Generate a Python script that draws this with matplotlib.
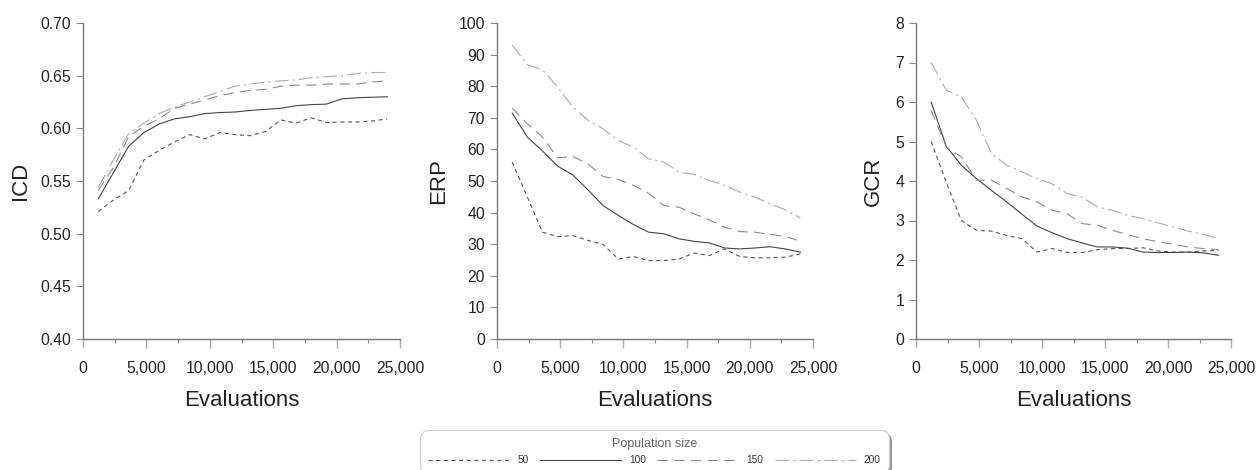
"""Three-panel convergence chart: ICD / ERP / GCR vs. evaluations per population size."""

import matplotlib

matplotlib.use("Agg")
import matplotlib.pyplot as plt
from matplotlib.ticker import FuncFormatter, MultipleLocator

plt.rcParams["font.family"] = ["Liberation Sans", "DejaVu Sans"]
plt.rcParams["lines.scale_dashes"] = False

# evaluations sampled every 1,200
evaluations = [1200 * k for k in range(1, 21)]
pop_sizes = ["50", "100", "150", "200"]

icd = {
    "50": [0.521, 0.532, 0.541, 0.570, 0.579, 0.587, 0.594, 0.590, 0.596, 0.594,
           0.593, 0.597, 0.608, 0.605, 0.610, 0.6055, 0.606, 0.606, 0.607, 0.609],
    "100": [0.533, 0.558, 0.583, 0.596, 0.604, 0.609, 0.611, 0.614, 0.615, 0.6155,
            0.617, 0.618, 0.619, 0.6215, 0.6225, 0.623, 0.628, 0.629, 0.6295, 0.630],
    "150": [0.541, 0.563, 0.592, 0.602, 0.609, 0.619, 0.623, 0.627, 0.631, 0.634,
            0.636, 0.637, 0.640, 0.641, 0.641, 0.642, 0.642, 0.642, 0.644, 0.645],
    "200": [0.544, 0.570, 0.595, 0.605, 0.614, 0.620, 0.625, 0.630, 0.635, 0.640,
            0.642, 0.644, 0.645, 0.646, 0.648, 0.649, 0.650, 0.652, 0.653, 0.653],
}

erp = {
    "50": [56.0, 44.9, 33.8, 32.4, 32.7, 31.2, 29.9, 25.3, 26.1, 24.8,
           24.8, 25.3, 27.2, 26.4, 28.5, 26.1, 25.7, 25.7, 25.9, 26.9],
    "100": [71.5, 63.9, 59.5, 54.7, 51.9, 47.2, 42.2, 39.1, 36.2, 33.8,
            33.3, 31.7, 30.9, 30.4, 28.8, 28.5, 28.8, 29.2, 28.5, 27.5],
    "150": [73.1, 68.1, 63.9, 57.3, 57.8, 55.4, 51.4, 50.5, 48.6, 46.1,
            42.2, 41.7, 39.6, 37.7, 35.4, 34.0, 33.8, 33.1, 32.5, 30.9],
    "200": [93.1, 86.8, 85.2, 79.7, 73.4, 69.2, 66.5, 62.8, 60.7, 57.0,
            56.0, 52.8, 52.1, 50.2, 48.6, 46.5, 44.9, 42.8, 40.9, 38.3],
}

gcr = {
    "50": [5.0, 3.97, 3.0, 2.75, 2.73, 2.62, 2.54, 2.20, 2.29, 2.19,
           2.19, 2.26, 2.29, 2.29, 2.31, 2.23, 2.20, 2.20, 2.23, 2.24],
    "100": [6.0, 4.88, 4.40, 4.06, 3.76, 3.47, 3.16, 2.86, 2.69, 2.54,
            2.43, 2.33, 2.33, 2.30, 2.20, 2.19, 2.19, 2.20, 2.18, 2.12],
    "150": [5.79, 4.86, 4.61, 4.02, 4.02, 3.81, 3.60, 3.47, 3.26, 3.17,
            2.92, 2.88, 2.75, 2.64, 2.54, 2.46, 2.40, 2.33, 2.29, 2.26],
    "200": [7.0, 6.3, 6.13, 5.54, 4.69, 4.40, 4.23, 4.06, 3.93, 3.68,
            3.59, 3.34, 3.26, 3.13, 3.05, 2.94, 2.84, 2.73, 2.65, 2.54],
}

styles = {
    "50": dict(color="#555555", dashes=(3, 2.5)),
    "100": dict(color="#444444", linestyle="-"),
    "150": dict(color="#8a8a8a", dashes=(7.5, 4.5)),
    "200": dict(color="#ababab", dashes=(10, 3, 1.5, 3)),
}

panels = [
    ("ICD", icd, (0.40, 0.70), 0.05, "{:.2f}", [0.0661, 0.2524], -0.164),
    ("ERP", erp, (0, 100), 10, "{:.0f}", [0.3957, 0.2516], -0.152),
    ("GCR", gcr, (0, 8), 1, "{:.0f}", [0.7293, 0.2508], -0.102),
]

fig = plt.figure(figsize=(12.56, 4.70), dpi=100)
bottom, height = 1 - 339 / 470, (339 - 23) / 470
handles = []

for name, data, ylim, ystep, yfmt, (left, width), ylab_x in panels:
    ax = fig.add_axes([left, bottom, width, height])
    handles = []
    for p in pop_sizes:
        (ln,) = ax.plot(evaluations, data[p], linewidth=0.8, label=p, **styles[p])
        handles.append(ln)

    ax.set_xlim(0, 25000)
    ax.set_ylim(*ylim)
    ax.xaxis.set_major_locator(MultipleLocator(5000))
    ax.xaxis.set_minor_locator(MultipleLocator(2500))
    ax.yaxis.set_major_locator(MultipleLocator(ystep))
    ax.xaxis.set_major_formatter(FuncFormatter(lambda v, _: f"{v:,.0f}"))
    ax.yaxis.set_major_formatter(FuncFormatter(lambda v, _, f=yfmt: f.format(v)))

    for side in ("top", "right"):
        ax.spines[side].set_visible(False)
    for side in ("left", "bottom"):
        ax.spines[side].set_color("#777777")
        ax.spines[side].set_linewidth(1.0)

    ax.tick_params(axis="x", which="major", length=6.5, width=1.0, color="#aaaaaa",
                   labelsize=11.3, labelcolor="#222222", pad=9)
    ax.tick_params(axis="x", which="minor", length=3, width=0.8, color="#888888")
    ax.tick_params(axis="y", which="major", length=5, width=0.8, color="#888888",
                   labelsize=11.3, labelcolor="#222222", pad=3.5)

    ax.set_ylabel(name, fontsize=16, color="#222222")
    ax.yaxis.set_label_coords(ylab_x, 0.5)
    ax.set_xlabel("Evaluations", fontsize=16, color="#222222")
    ax.xaxis.set_label_coords(0.5, -0.162)

leg = fig.legend(
    handles=handles,
    labels=pop_sizes,
    title="Population size",
    loc="upper center",
    bbox_to_anchor=(654.5 / 1256, 1 - 425 / 470),
    ncol=4,
    fontsize=7.3,
    title_fontsize=9,
    handlelength=8.0,
    handletextpad=0.8,
    columnspacing=1.1,
    borderpad=0.8,
    fancybox=True,
    shadow=True,
    frameon=True,
)
leg.get_frame().set_boxstyle("round,pad=0,rounding_size=0.9")
leg.get_frame().set_edgecolor("#cccccc")
leg.get_frame().set_linewidth(0.8)
leg.get_title().set_color("#666666")
for t in leg.get_texts():
    t.set_color("#333333")

fig.savefig("out.png", dpi=100)
plt.close(fig)
